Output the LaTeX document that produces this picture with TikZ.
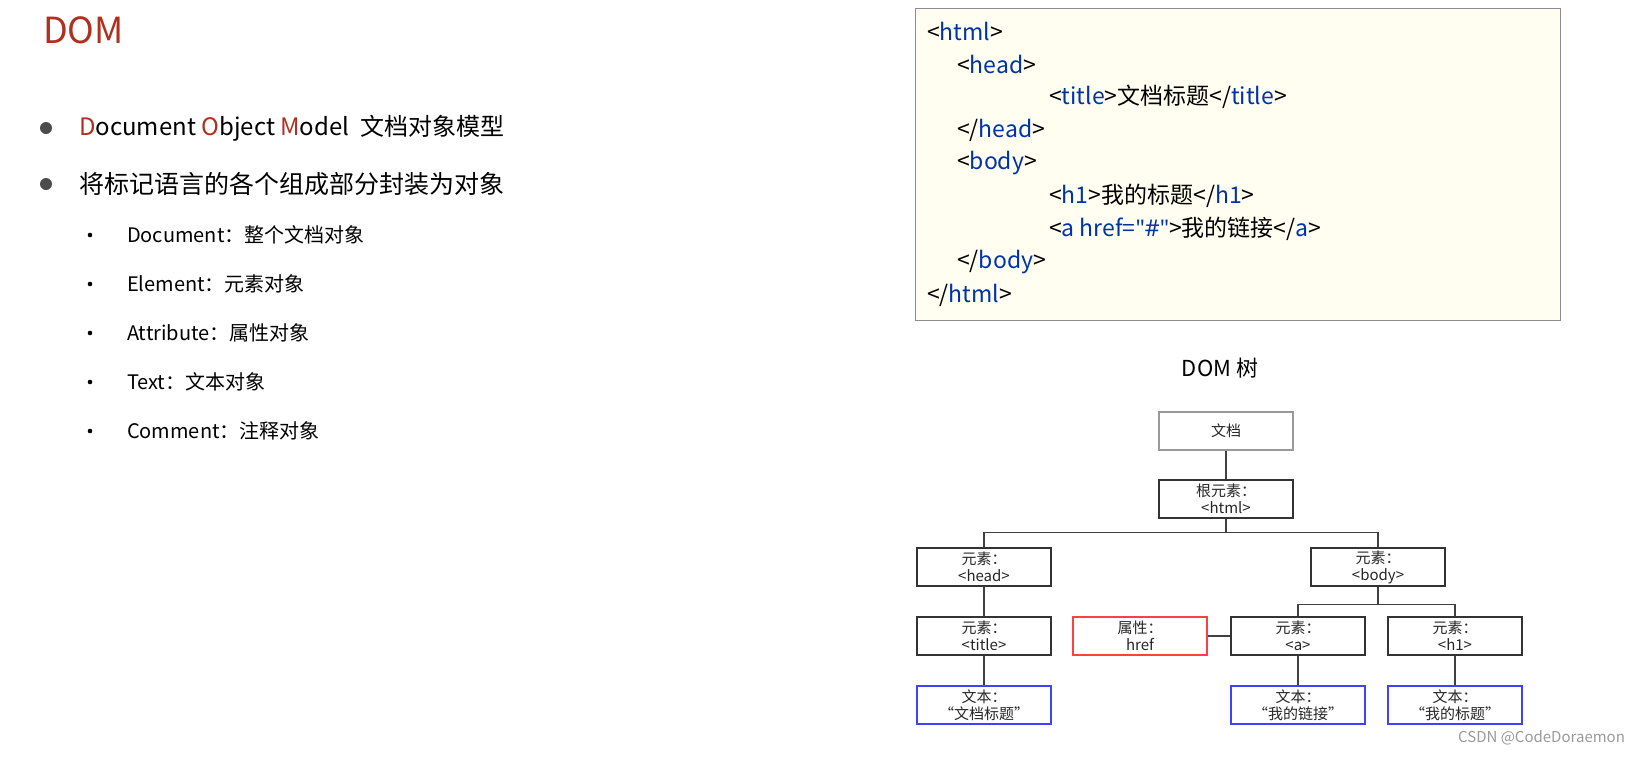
\documentclass[tikz,border=0pt]{standalone}
\usepackage{fontspec}
\setmainfont{Noto Sans CJK SC}
\newfontfamily\latq{Noto Sans}
\begin{document}
\begin{tikzpicture}[x=0.5pt,y=-0.5pt,
  tb/.style={draw=black!80,line width=0.6pt,minimum width=67pt,minimum height=19pt,inner sep=0pt,align=center,font=\fontsize{7.5}{8.5}\selectfont,text=black!85},
  cl/.style={anchor=west,font=\fontsize{11.5}{12}\selectfont},
  ln/.style={draw=black!75,line width=0.6pt},
  sb/.style={anchor=west,font=\fontsize{10}{11}\selectfont}]
\definecolor{tag}{HTML}{0033AA}
\definecolor{dred}{HTML}{B03020}
\useasboundingbox (0,0) rectangle (1634,772);
% left
\node[anchor=west,text=dred,font=\fontsize{18}{20}\selectfont] (t) at (36,30) {DOM};
\fill[black!70] (46,128) circle (6);
\fill[black!70] (46,184) circle (6);
\node[anchor=west,font=\fontsize{12}{14}\selectfont] (b1) at (72,128) {\textcolor{dred}{D}ocument \textcolor{dred}{O}bject \textcolor{dred}{M}odel\ \ 文档对象模型};
\node[anchor=west,font=\fontsize{12.5}{14}\selectfont] (b2) at (72,184) {将标记语言的各个组成部分封装为对象};
\foreach \y/\t in {235/{Document：整个文档对象},284/{Element：元素对象},333/{Attribute：属性对象},382/{Text：文本对象},431/{Comment：注释对象}}{
  \fill (90,\y) circle (2.3);
  \node[sb] at (120,\y) {\t};
}
% code box
\node[draw=black!45,fill=yellow!6,line width=0.6pt,minimum width=322.5pt,minimum height=156pt,anchor=north west,inner sep=0pt] (code) at (915,8) {};
\node[cl] at (920,31) {<\textcolor{tag}{html}>};
\node[cl] at (950,64) {<\textcolor{tag}{head}>};
\node[cl] at (1042,97) {<\textcolor{tag}{title}>文档标题</\textcolor{tag}{title}>};
\node[cl] at (950,130) {</\textcolor{tag}{head}>};
\node[cl] at (950,163) {<\textcolor{tag}{body}>};
\node[cl] at (1042,196) {<\textcolor{tag}{h1}>我的标题</\textcolor{tag}{h1}>};
\node[cl] at (1042,229) {<\textcolor{tag}{a href={\latq\char34\#\char34}}>我的链接</\textcolor{tag}{a}>};
\node[cl] at (950,262) {</\textcolor{tag}{body}>};
\node[cl] at (920,295) {</\textcolor{tag}{html}>};
% tree
\node[font=\fontsize{11}{12}\selectfont] (tt) at (1220,368) {DOM 树};
\node[tb,draw=black!40,line width=1pt] (doc) at (1226,431) {文档};
\node[tb] (root) at (1226,499) {根元素：\\<html>};
\node[tb] (head) at (984,567) {元素：\\<head>};
\node[tb] (body) at (1378,567) {元素：\\<body>};
\node[tb] (title) at (984,636) {元素：\\<title>};
\node[tb,draw=red!75] (attr) at (1140,636) {属性：\\href};
\node[tb] (a) at (1298,636) {元素：\\<a>};
\node[tb] (h1) at (1455,636) {元素：\\<h1>};
\node[tb,draw=blue!75] (t1) at (984,705) {文本：\\“文档标题”};
\node[tb,draw=blue!75] (t2) at (1298,705) {文本：\\“我的链接”};
\node[tb,draw=blue!75] (t3) at (1455,705) {文本：\\“我的标题”};
\draw[ln] (doc) -- (root);
\draw[ln] (root.south) -- ++(0,14) -| (head.north);
\draw[ln] (root.south) -- ++(0,14) -| (body.north);
\draw[ln] (head) -- (title);
\draw[ln] (title) -- (t1);
\draw[ln] (body.south) -- ++(0,18) -| (a.north);
\draw[ln] (body.south) -- ++(0,18) -| (h1.north);
\draw[ln] (attr) -- (a);
\draw[ln] (a) -- (t2);
\draw[ln] (h1) -- (t3);
\node[anchor=east,text=black!40,font=\fontsize{7.5}{8}\selectfont] (wm) at (1632,738) {CSDN @CodeDoraemon};
\end{tikzpicture}
\end{document}
